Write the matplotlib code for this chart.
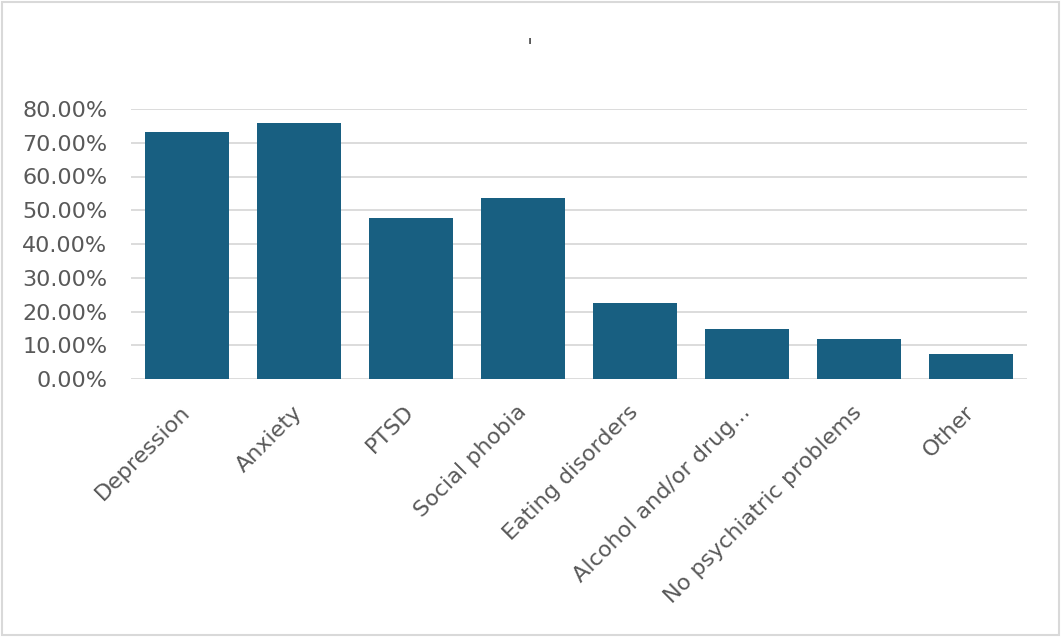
import numpy as np
import matplotlib
matplotlib.use("Agg")
import matplotlib.pyplot as plt
import matplotlib.transforms as mtransforms
from matplotlib.patches import Rectangle
from matplotlib.ticker import FuncFormatter

# categories and shares
categories = ["Depression", "Anxiety", "PTSD", "Social phobia",
              "Eating disorders", "Alcohol and/or drug...",
              "No psychiatric problems", "Other"]
shares = [0.731, 0.760, 0.476, 0.535, 0.224, 0.149, 0.119, 0.074]
y_ticks = [0.0, 0.1, 0.2, 0.3, 0.4, 0.5, 0.6, 0.7, 0.8]

bar_color = "#185f81"
text_color = "#595959"
grid_color = "#d9d9d9"

W, H = 1061, 637
fig = plt.figure(figsize=(W / 100, H / 100), dpi=100)
ax = fig.add_axes([131 / W, 1 - 379 / H, (1027 - 131) / W, (379 - 109) / H])

x = np.arange(len(categories))
ax.bar(x, shares, width=0.75, color=bar_color, zorder=3)

ax.set_xlim(-0.5, len(categories) - 0.5)
ax.set_ylim(0, 0.8)
ax.set_yticks(y_ticks)
ax.yaxis.set_major_formatter(FuncFormatter(lambda v, p: "%.2f%%" % (v * 100)))
ax.grid(axis="y", color=grid_color, linewidth=1.3, zorder=0)
ax.set_axisbelow(True)

for s in ax.spines.values():
    s.set_visible(False)

ax.tick_params(axis="both", length=0, labelsize=16, labelcolor=text_color)
ax.tick_params(axis="y", pad=17)
ax.set_xticks(x)
ax.set_xticklabels(categories, rotation=45, ha="right", va="top",
                   rotation_mode="anchor")
ax.tick_params(axis="x", pad=10)

# nudge the slanted labels so their ends sit just right of each bar centre
shift = mtransforms.ScaledTranslation(-7 / 100, -9 / 100, fig.dpi_scale_trans)
for lab in ax.get_xticklabels():
    lab.set_transform(lab.get_transform() + shift)

# the chart title is a lone apostrophe
fig.text(530 / W, 1 - 48 / H, "'", ha="center", va="center",
         fontsize=16, color=text_color)

# light outer frame of the chart area
frame = Rectangle((2 / W, 2 / H), (1059 - 2) / W, (635 - 2) / H,
                  transform=fig.transFigure, fill=False,
                  edgecolor=grid_color, linewidth=1.5)
fig.patches.append(frame)

fig.savefig("out.png", dpi=100)
